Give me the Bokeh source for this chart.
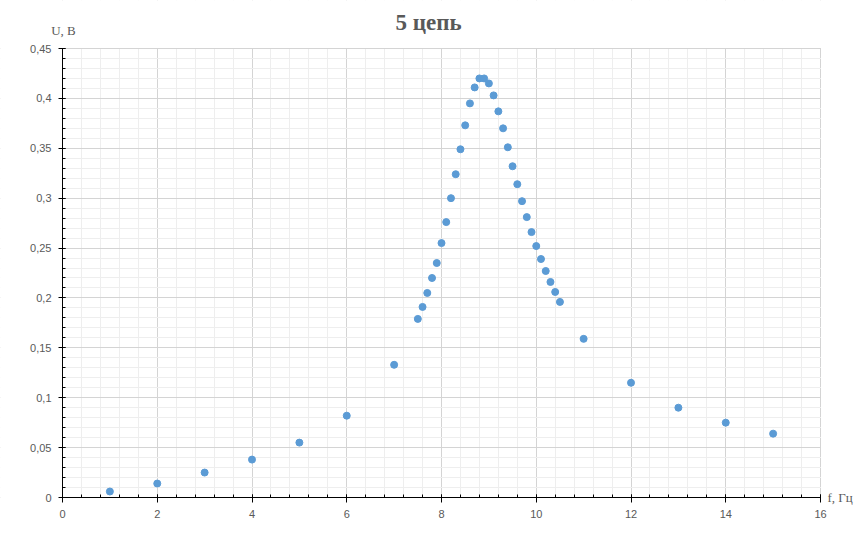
from bokeh.plotting import figure
from bokeh.models import (SingleIntervalTicker, CustomJSTickFormatter, Label, Range1d,
                          BoxAnnotation)
from bokeh.embed import file_html
from bokeh.resources import INLINE

freq = [1, 2, 3, 4, 5, 6, 7, 7.5, 7.6, 7.7, 7.8, 7.9, 8.0, 8.1, 8.2, 8.3, 8.4, 8.5,
        8.6, 8.7, 8.8, 8.9, 9.0, 9.1, 9.2, 9.3, 9.4, 9.5, 9.6, 9.7, 9.8, 9.9, 10.0,
        10.1, 10.2, 10.3, 10.4, 10.5, 11, 12, 13, 14, 15]
volt = [0.006, 0.014, 0.025, 0.038, 0.055, 0.082, 0.133, 0.179, 0.191, 0.205, 0.220,
        0.235, 0.255, 0.276, 0.300, 0.324, 0.349, 0.373, 0.395, 0.411, 0.420, 0.420,
        0.415, 0.403, 0.387, 0.370, 0.351, 0.332, 0.314, 0.297, 0.281, 0.266, 0.252,
        0.239, 0.227, 0.216, 0.206, 0.196, 0.159, 0.115, 0.090, 0.075, 0.064]

title_text = "5 цепь"
x_label = "f, Гц"
y_label = "U, В"

X_MIN, X_MAX = 0, 16
Y_MIN, Y_MAX = 0, 0.45

# The frame covers the whole canvas so that the title and the axis captions lie
# inside it; axes sit at x=0 / y=0 and the region outside 0..16 x 0..0.45 is masked.
W, H = 856, 544
LEFT, BOTTOM, RIGHT, TOP = 62, 47, 36, 48
px_per_x = (W - LEFT - RIGHT) / (X_MAX - X_MIN)
px_per_y = (H - BOTTOM - TOP) / (Y_MAX - Y_MIN)
x_start = X_MIN - LEFT / px_per_x
x_end = X_MAX + RIGHT / px_per_x
y_start = Y_MIN - BOTTOM / px_per_y
y_end = Y_MAX + TOP / px_per_y

p = figure(width=W, height=H, output_backend="svg", toolbar_location=None,
           x_range=Range1d(x_start, x_end), y_range=Range1d(y_start, y_end), title=None,
           min_border_left=0, min_border_right=0, min_border_top=0, min_border_bottom=0)
p.outline_line_color = None
p.background_fill_color = "white"
p.border_fill_color = "white"

p.xaxis.ticker = SingleIntervalTicker(interval=2, num_minor_ticks=5)
p.yaxis.ticker = SingleIntervalTicker(interval=0.05, num_minor_ticks=5)
fmt = "var s = (Math.round(tick*100)/100).toString(); return s.replace('.', ',');"
p.xaxis.formatter = CustomJSTickFormatter(code=fmt)
p.yaxis.formatter = CustomJSTickFormatter(code=fmt)
p.xaxis.bounds = (X_MIN, X_MAX)
p.yaxis.bounds = (Y_MIN, Y_MAX)
p.xaxis.fixed_location = Y_MIN
p.yaxis.fixed_location = X_MIN

for ax in (p.xaxis, p.yaxis):
    ax.axis_line_color = "black"
    ax.axis_line_width = 1
    ax.major_tick_line_color = "black"
    ax.minor_tick_line_color = "black"
    ax.major_label_text_font = "Liberation Sans"
    ax.major_label_text_font_size = "11px"
    ax.major_label_text_color = "#595959"
    ax.minor_tick_out = 0
    ax.minor_tick_in = 3
    ax.major_tick_in = 3
p.xaxis.major_tick_out = 5
p.yaxis.major_tick_out = 4
p.xaxis.major_label_standoff = 7
p.yaxis.major_label_standoff = 7

for g in (p.xgrid, p.ygrid):
    g.grid_line_color = "#d4d4d4"
    g.minor_grid_line_color = "#eeeeee"
    g.level = "underlay"
p.xgrid.ticker = p.xaxis.ticker
p.ygrid.ticker = p.yaxis.ticker

# white masks (drawn just over the grid) outside the plotting area
mask = dict(fill_color="white", fill_alpha=1, line_color=None, level="underlay")
p.add_layout(BoxAnnotation(left=X_MAX + 0.5 / px_per_x, **mask))
p.add_layout(BoxAnnotation(right=X_MIN - 0.5 / px_per_x, **mask))
p.add_layout(BoxAnnotation(bottom=Y_MAX + 0.5 / px_per_y, **mask))
p.add_layout(BoxAnnotation(top=Y_MIN - 0.5 / px_per_y, **mask))

p.scatter(freq, volt, size=7, color="#5b9bd5", line_color="#5b9bd5")

p.add_layout(Label(x=X_MIN, y=Y_MAX, x_offset=366, y_offset=TOP - 22,
                   text=title_text, text_font="Liberation Serif",
                   text_font_size="23px", text_font_style="bold", text_color="#595959",
                   text_align="center", text_baseline="middle"))
p.add_layout(Label(x=X_MAX, y=Y_MIN, x_offset=7, text=x_label, text_font="Liberation Serif",
                   text_font_size="13px", text_color="#595959",
                   text_align="left", text_baseline="middle"))
p.add_layout(Label(x=X_MIN, y=Y_MAX, x_offset=1, y_offset=18, text=y_label,
                   text_font="Liberation Serif",
                   text_font_size="13px", text_color="#595959",
                   text_align="center", text_baseline="middle"))

open("out.html", "w").write(file_html(p, INLINE))
